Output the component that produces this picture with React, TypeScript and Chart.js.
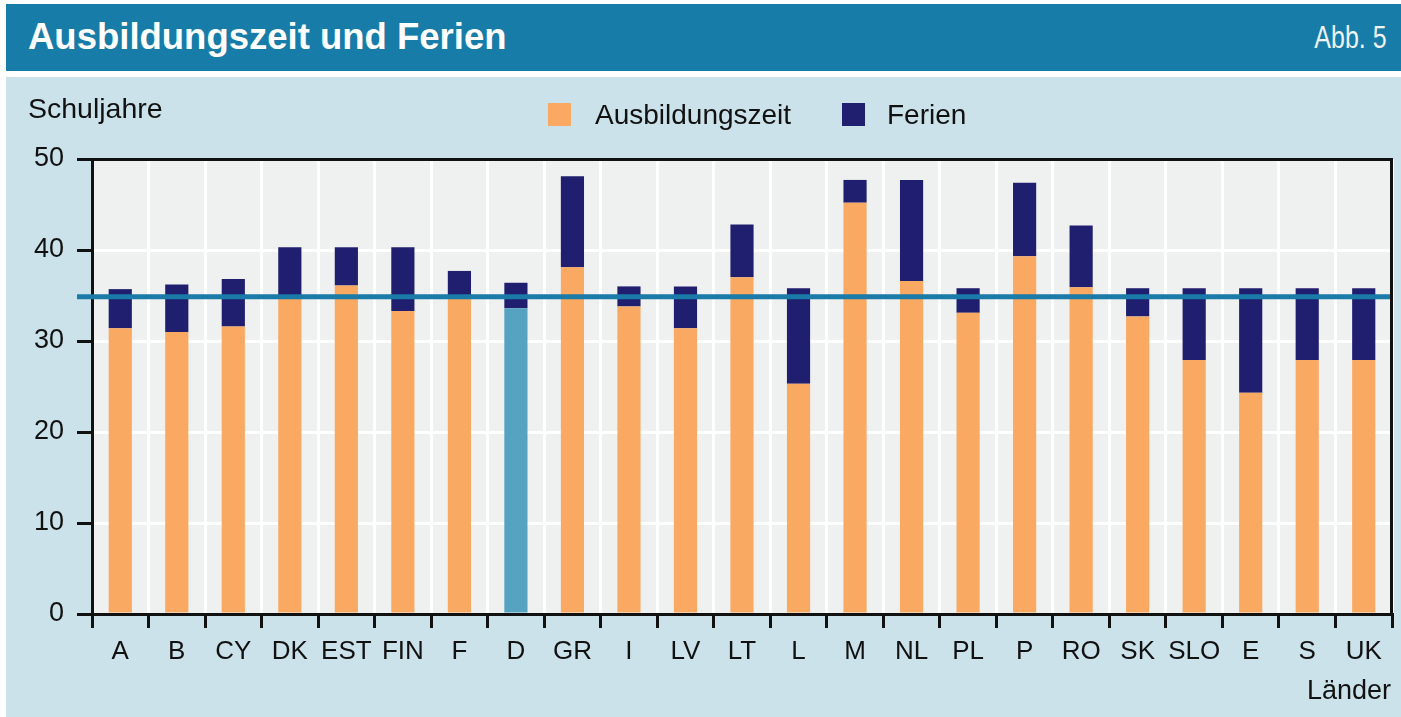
import React, { useEffect, useRef } from "react";
import { Chart, registerables } from "chart.js";

Chart.register(...registerables);

const categories = ["A", "B", "CY", "DK", "EST", "FIN", "F", "D", "GR", "I", "LV", "LT", "L", "M", "NL", "PL", "P", "RO", "SK", "SLO", "E", "S", "UK"];
const ausbildungszeit = [31.4, 31.0, 31.6, 35.0, 36.1, 33.3, 35.0, 33.6, 38.1, 33.8, 31.4, 37.0, 25.3, 45.2, 36.6, 33.1, 39.3, 35.9, 32.7, 27.9, 24.3, 27.9, 27.9];
const ferien = [4.3, 5.2, 5.2, 5.3, 4.2, 7.0, 2.7, 2.8, 10.0, 2.2, 4.6, 5.8, 10.5, 2.5, 11.1, 2.7, 8.1, 6.8, 3.1, 7.9, 11.5, 7.9, 7.9];
const referenceValue = 34.85;
const highlightCategory = "D";
const seriesLabels = ["Ausbildungszeit", "Ferien"];
const yMin = 0;
const yMax = 50;
const yStep = 10;

const TITLE = "Ausbildungszeit und Ferien";
const FIG = "Abb. 5";
const Y_TITLE = "Schuljahre";
const X_TITLE = "Länder";

const ORANGE = "#f9a962";
const NAVY = "#201f6f";
const HIGHLIGHT = "#55a3c1";
const REF = "#1a7aa8";
const HEADER = "#177ca7";
const PANEL = "#cce2ea";
const PLOT_BG = "#eff0f0";
const INK = "#111111";
const FONT = "'Liberation Sans', Arial, sans-serif";

const plotBg = {
  id: "plotBg",
  beforeDraw(chart: any) {
    const { ctx, chartArea: a } = chart;
    ctx.save();
    ctx.fillStyle = PLOT_BG;
    ctx.fillRect(a.left, a.top, a.right - a.left, a.bottom - a.top);
    ctx.restore();
  },
};

const refLine = {
  id: "refLine",
  afterDatasetsDraw(chart: any) {
    const { ctx, chartArea: a, scales } = chart;
    const y = scales.y.getPixelForValue(referenceValue);
    ctx.save();
    ctx.strokeStyle = REF;
    ctx.lineWidth = 5;
    ctx.beginPath();
    ctx.moveTo(a.left - 15, y);
    ctx.lineTo(a.right, y);
    ctx.stroke();
    ctx.restore();
  },
  afterDraw(chart: any) {
    const { ctx, chartArea: a } = chart;
    ctx.save();
    ctx.strokeStyle = INK;
    ctx.lineWidth = 3;
    ctx.beginPath();
    ctx.moveTo(a.left - 1.5, a.top + 0.5);
    ctx.lineTo(a.right - 0.5, a.top + 0.5);
    ctx.lineTo(a.right - 0.5, a.bottom);
    ctx.stroke();
    ctx.restore();
  },
};

function ChartCanvas() {
  const ref = useRef<HTMLCanvasElement | null>(null);
  useEffect(() => {
    if (!ref.current) return;
    const chart = new Chart(ref.current, {
      type: "bar",
      data: {
        labels: categories,
        datasets: [
          {
            label: seriesLabels[0],
            data: ausbildungszeit,
            backgroundColor: categories.map((c) => (c === highlightCategory ? HIGHLIGHT : ORANGE)),
            borderWidth: 0,
            barPercentage: 0.41,
            categoryPercentage: 1,
          },
          {
            label: seriesLabels[1],
            data: ferien,
            backgroundColor: NAVY,
            borderWidth: 0,
            barPercentage: 0.41,
            categoryPercentage: 1,
          },
        ],
      },
      options: {
        animation: false,
        responsive: false,
        devicePixelRatio: 1,
        events: [],
        layout: { padding: { top: 82, right: 9, left: 0, bottom: 0 } },
        plugins: { legend: { display: false }, tooltip: { enabled: false }, title: { display: false } },
        scales: {
          x: {
            stacked: true,
            grid: { offset: true, color: "#ffffff", lineWidth: 3, tickColor: INK, tickWidth: 3, tickLength: 14, z: -1 },
            border: { color: INK, width: 3 },
            ticks: { color: INK, font: { family: FONT, size: 26 }, padding: 8, maxRotation: 0, autoSkip: false },
            afterFit(s: any) {
              s.height = 103;
            },
          },
          y: {
            stacked: true,
            min: yMin,
            max: yMax,
            grid: { color: "#ffffff", lineWidth: 3, tickColor: INK, tickWidth: 3, tickLength: 15, z: -1 },
            border: { color: INK, width: 3 },
            ticks: { stepSize: yStep, color: INK, font: { family: FONT, size: 27 }, padding: 13 },
            afterFit(s: any) {
              s.width = 86;
            },
          },
        },
      },
      plugins: [plotBg, refLine],
    } as any);
    return () => chart.destroy();
  }, []);
  return <canvas ref={ref} width={1395} height={640} style={{ display: "block", width: 1395, height: 640 }} />;
}

export default function App() {
  useEffect(() => {
    document.body.style.margin = "0";
  }, []);
  const legendColors = [ORANGE, NAVY];
  const legendBoxX = [548, 842];
  const legendTextX = [595, 887];
  return (
    <div style={{ position: "relative", width: 1401, height: 717, background: "#ffffff", overflow: "hidden", fontFamily: FONT }}>
      <div style={{ position: "absolute", left: 6, top: 4, width: 1395, height: 67, background: HEADER }} />
      <div style={{ position: "absolute", left: 28, top: 18, fontSize: 36.5, lineHeight: "37px", fontWeight: 700, color: "#ffffff", whiteSpace: "nowrap" }}>{TITLE}</div>
      <div style={{ position: "absolute", right: 14, top: 21, fontSize: 32, lineHeight: "32px", color: "#eef4f7", whiteSpace: "nowrap", transform: "scaleX(0.78)", transformOrigin: "right center" }}>{FIG}</div>
      <div style={{ position: "absolute", left: 6, top: 77, width: 1395, height: 640, background: PANEL }}>
        <ChartCanvas />
      </div>
      <div style={{ position: "absolute", left: 28, top: 94, fontSize: 28.5, lineHeight: "28px", color: INK, whiteSpace: "nowrap" }}>{Y_TITLE}</div>
      {seriesLabels.map((l, i) => (
        <React.Fragment key={l}>
          <div style={{ position: "absolute", left: legendBoxX[i], top: 103, width: 23, height: 23, background: legendColors[i] }} />
          <div style={{ position: "absolute", left: legendTextX[i], top: 101, fontSize: 28, lineHeight: "28px", color: INK, whiteSpace: "nowrap" }}>{l}</div>
        </React.Fragment>
      ))}
      <div style={{ position: "absolute", right: 10, top: 676, fontSize: 27, lineHeight: "28px", color: INK, whiteSpace: "nowrap" }}>{X_TITLE}</div>
    </div>
  );
}
